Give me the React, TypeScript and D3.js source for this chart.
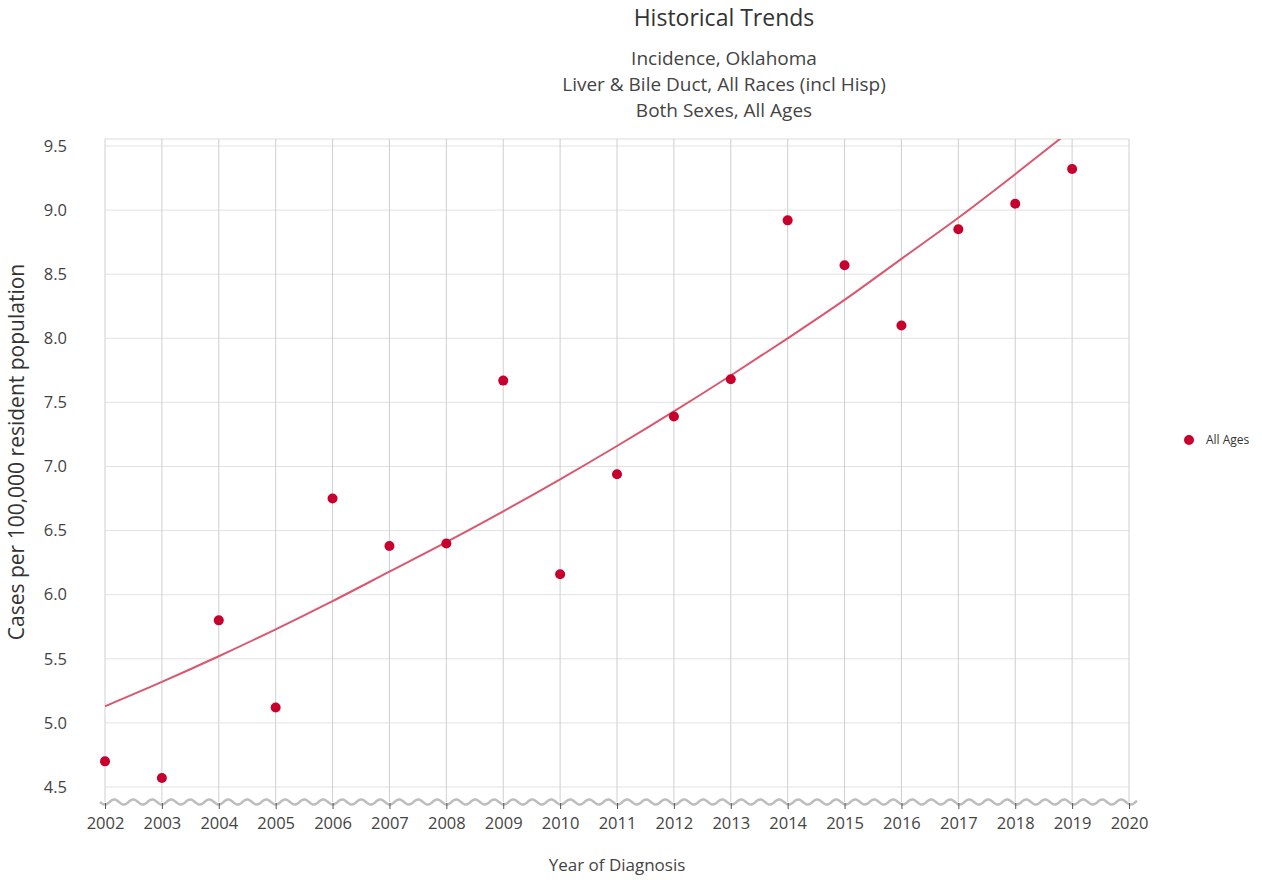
import { useEffect, useRef } from 'react';
import * as d3 from 'd3';

const years = [2002, 2003, 2004, 2005, 2006, 2007, 2008, 2009, 2010, 2011, 2012, 2013, 2014, 2015, 2016, 2017, 2018, 2019];
const rates = [4.7, 4.57, 5.8, 5.12, 6.75, 6.38, 6.4, 7.67, 6.16, 6.94, 7.39, 7.68, 8.92, 8.57, 8.1, 8.85, 9.05, 9.32];
const trend = [5.13, 5.32, 5.52, 5.73, 5.95, 6.18, 6.41, 6.65, 6.9, 7.16, 7.43, 7.71, 8.0, 8.3, 8.62, 8.94, 9.28, 9.63];
const yTicks = [4.5, 5.0, 5.5, 6.0, 6.5, 7.0, 7.5, 8.0, 8.5, 9.0, 9.5];
const xTicks = d3.range(2002, 2021);

const W = 1262;
const H = 880;
const FONT = '"Open Sans", "Noto Sans", sans-serif';

const App = () => {
  const ref = useRef<SVGSVGElement>(null);

  useEffect(() => {
    const svg = d3.select(ref.current);
    svg.selectAll('*').remove();

    const left = 105;
    const right = 1129;
    const top = 139;
    const bottom = 802;

    const x = d3.scaleLinear().domain([2002, 2020]).range([left, right]);
    const y = d3.scaleLinear().domain([4.5, 9.5]).range([787, 146]);

    // grid
    const grid = svg.append('g');
    grid
      .selectAll('line.h')
      .data(yTicks)
      .join('line')
      .attr('x1', left)
      .attr('x2', right)
      .attr('y1', (d) => y(d))
      .attr('y2', (d) => y(d))
      .attr('stroke', '#e2e2e2');
    grid
      .append('line')
      .attr('x1', left)
      .attr('x2', right)
      .attr('y1', top)
      .attr('y2', top)
      .attr('stroke', '#dcdcdc');
    grid
      .selectAll('line.v')
      .data(xTicks)
      .join('line')
      .attr('x1', (d) => x(d))
      .attr('x2', (d) => x(d))
      .attr('y1', top)
      .attr('y2', bottom)
      .attr('stroke', '#cfcfcf');

    // axis break wave
    const wave = d3.range(0, 1038, 1).map((i) => [100 + i, bottom + 2.5 * Math.sin((i / 19) * 2 * Math.PI)] as [number, number]);
    svg
      .append('path')
      .attr('d', d3.line()(wave))
      .attr('fill', 'none')
      .attr('stroke', '#bdbdbd')
      .attr('stroke-width', 2.5);

    // x axis
    const xa = svg
      .append('g')
      .attr('transform', `translate(0,${bottom + 1})`)
      .call(d3.axisBottom(x).tickValues(xTicks).tickFormat(d3.format('d')).tickSize(6).tickPadding(8));
    xa.select('.domain').remove();
    xa.selectAll('.tick line').attr('stroke', '#555');
    xa.selectAll('text').attr('font-family', FONT).attr('font-size', 16.5).attr('fill', '#444');

    // y axis
    const ya = svg
      .append('g')
      .attr('transform', `translate(${left - 38},0)`)
      .call(d3.axisLeft(y).tickValues(yTicks).tickFormat(d3.format('.1f')).tickSize(0).tickPadding(0));
    ya.select('.domain').remove();
    ya.selectAll('text').attr('font-family', FONT).attr('font-size', 16.5).attr('fill', '#444');

    // trend
    svg
      .append('clipPath')
      .attr('id', 'plot')
      .append('rect')
      .attr('x', left)
      .attr('y', top)
      .attr('width', right - left)
      .attr('height', bottom - top);
    const line = d3
      .line<number>()
      .x((_, i) => x(years[i]))
      .y((d) => y(d))
      .curve(d3.curveMonotoneX);
    svg
      .append('path')
      .datum(trend)
      .attr('clip-path', 'url(#plot)')
      .attr('d', line)
      .attr('fill', 'none')
      .attr('stroke', '#d9586f')
      .attr('stroke-width', 2);

    // points
    svg
      .selectAll('circle.pt')
      .data(rates)
      .join('circle')
      .attr('cx', (_, i) => x(years[i]))
      .attr('cy', (d) => y(d))
      .attr('r', 5)
      .attr('fill', '#c8002d');

    // legend
    svg.append('circle').attr('cx', 1189).attr('cy', 440).attr('r', 5).attr('fill', '#c8002d');
    svg
      .append('text')
      .attr('x', 1206)
      .attr('y', 444)
      .attr('font-family', FONT)
      .attr('font-size', 12)
      .attr('fill', '#333')
      .text('All Ages');

    // titles
    svg
      .append('text')
      .attr('x', 724)
      .attr('y', 26)
      .attr('text-anchor', 'middle')
      .attr('font-family', FONT)
      .attr('font-size', 23)
      .attr('fill', '#333')
      .text('Historical Trends');
    const subs = ['Incidence, Oklahoma', 'Liver & Bile Duct, All Races (incl Hisp)', 'Both Sexes, All Ages'];
    svg
      .selectAll('text.sub')
      .data(subs)
      .join('text')
      .attr('x', 724)
      .attr('y', (_, i) => 65 + i * 26)
      .attr('text-anchor', 'middle')
      .attr('font-family', FONT)
      .attr('font-size', 19)
      .attr('fill', '#444')
      .text((d) => d);

    svg
      .append('text')
      .attr('transform', `translate(24,452) rotate(-90)`)
      .attr('text-anchor', 'middle')
      .attr('font-family', FONT)
      .attr('font-size', 21)
      .attr('fill', '#333')
      .text('Cases per 100,000 resident population');
    svg
      .append('text')
      .attr('x', 617)
      .attr('y', 871)
      .attr('text-anchor', 'middle')
      .attr('font-family', FONT)
      .attr('font-size', 17)
      .attr('fill', '#444')
      .text('Year of Diagnosis');
  }, []);

  return (
    <svg
      ref={ref}
      width={W}
      height={H}
      style={{ position: 'absolute', left: 0, top: 0, background: '#fff' }}
    />
  );
};

export default App;
